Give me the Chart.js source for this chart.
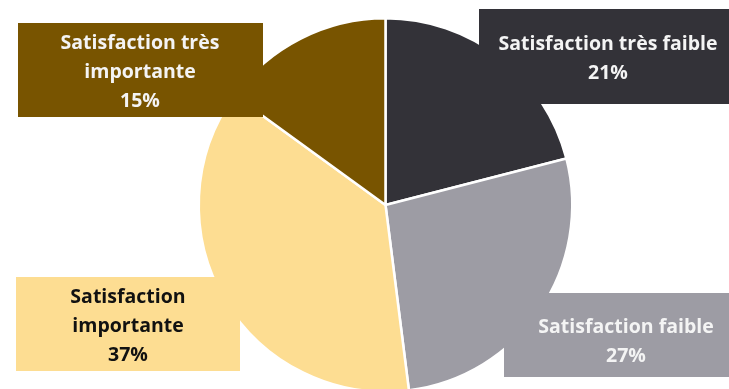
<!DOCTYPE html>
<html>
<head>
<meta charset="utf-8">
<script src="https://cdn.jsdelivr.net/npm/chart.js@4.4.0/dist/chart.umd.min.js"></script>
<style>
	html, body { margin: 0; padding: 0; background: #fff; overflow: hidden; }
	#wrap { width: 729px; height: 420px; }
</style>
</head>
<body>
<div id="wrap"><canvas id="pie_canvas" width="729" height="420"></canvas></div>
<script>
const categories = ["Satisfaction très faible", "Satisfaction faible", "Satisfaction importante", "Satisfaction très importante"];
const shares = [21, 27, 37, 15];
const sliceColors = ["#333238", "#9d9ca4", "#fddd92", "#785400"];
const labelLines = [
	["Satisfaction très faible", "21%"],
	["Satisfaction faible", "27%"],
	["Satisfaction", "importante", "37%"],
	["Satisfaction très", "importante", "15%"],
];

// label boxes: x, y, w, h and text centre
const boxes = [
	{x: 479, y: 9, w: 258, h: 95, cx: 608, cy: 59, color: "#f4f4f4"},
	{x: 504, y: 293, w: 244, h: 84, cx: 626, cy: 342, color: "#f4f4f4"},
	{x: 16, y: 277, w: 224, h: 94, cx: 128, cy: 326, color: "#111111"},
	{x: 18, y: 23, w: 245, h: 94, cx: 140, cy: 72, color: "#f4f4f4"},
];

const labelBoxes = {
	id: "labelBoxes",
	afterDraw: function(chart) {
		const ctx = chart.ctx;
		ctx.save();
		ctx.font = "bold 19.5px 'Open Sans'";
		ctx.textAlign = "center";
		ctx.textBaseline = "middle";
		const lineH = 29;
		boxes.forEach(function(b, i) {
			ctx.fillStyle = sliceColors[i];
			ctx.fillRect(b.x, b.y, b.w, b.h);
			const lines = labelLines[i];
			ctx.fillStyle = b.color;
			const top = b.cy - (lines.length - 1) * lineH / 2;
			lines.forEach(function(t, j) {
				ctx.fillText(t, b.cx, top + j * lineH);
			});
		});
		ctx.restore();
	}
};

new Chart(document.getElementById("pie_canvas"), {
	type: "pie",
	data: {
		labels: categories,
		datasets: [{
			data: shares,
			backgroundColor: sliceColors,
			borderColor: "#ffffff",
			borderWidth: 2.5,
		}]
	},
	options: {
		responsive: false,
		animation: false,
		layout: {padding: {left: 197, right: 155, top: 17, bottom: 27}},
		plugins: {
			legend: {display: false},
			tooltip: {enabled: false},
		}
	},
	plugins: [labelBoxes]
});
</script>
</body>
</html>
